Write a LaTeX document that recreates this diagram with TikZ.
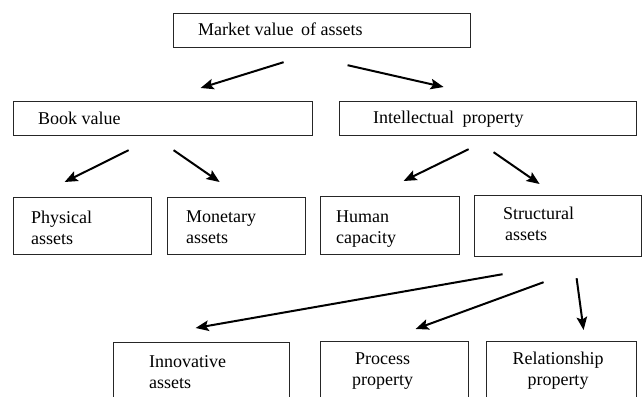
\documentclass[tikz,border=0pt]{standalone}
\usepackage{fontspec}
\setmainfont{Liberation Serif}
\usetikzlibrary{arrows.meta,calc}
\begin{document}
\begin{tikzpicture}[x=1pt,y=-1pt,
  box/.style={draw=black!85, line width=1.2pt, anchor=north west, inner sep=0pt},
  lbl/.style={anchor=base west, inner sep=0pt, font=\fontsize{18}{21}\selectfont},
  arr/.style={line width=2pt, -{Stealth[length=13pt,width=10.5pt,inset=2.5pt]}}]
\useasboundingbox (0,0) rectangle (642,396);
\clip (0,0) rectangle (642,396);
% boxes
\node[box, minimum width=297pt, minimum height=34pt] (mv) at (173,13) {};
\node[box, minimum width=299pt, minimum height=34pt] (bv) at (13,101) {};
\node[box, minimum width=297pt, minimum height=34pt] (ip) at (339,101) {};
\node[box, minimum width=138pt, minimum height=57pt] (phys) at (13,197) {};
\node[box, minimum width=138pt, minimum height=57pt] (mon) at (167,197) {};
\node[box, minimum width=139pt, minimum height=58pt] (hum) at (320,196) {};
\node[box, minimum width=167pt, minimum height=61pt] (str) at (474,195) {};
\node[box, minimum width=176pt, minimum height=80pt] (inn) at (113,342) {};
\node[box, minimum width=148pt, minimum height=80pt] (proc) at (320,341) {};
\node[box, minimum width=150pt, minimum height=80pt] (rel) at (486,341) {};
% texts (base anchor = baseline of the last line)
\node[lbl] (mvT) at (198,36) {Market value\hspace{3pt} of assets};
\node[lbl] (bvT) at (38,124) {Book value};
\node[lbl] (ipT) at (373,123) {Intellectual\hspace{4pt} property};
\node[lbl, align=left] (physT) at (31,244) {Physical\\assets};
\node[lbl, align=left] (monT) at (186,243) {Monetary\\assets};
\node[lbl, align=left] (humT) at (336,243) {Human\\capacity};
\node[lbl, align=left] (strT) at (503,240) {Structural\\\hspace{2pt}assets};
\node[lbl, align=left] (innT) at (149,388) {Innovative\\assets};
\node[lbl, align=left] (procT) at (352,385) {\hspace{3pt}Process\\property};
\node[lbl, align=center, anchor=base] (relT) at (558,385) {Relationship\\property};
% arrows
\draw[arr] ($(mv.south)+(-38.5,14)$) -- ($(bv.north)+(37.5,-13)$);
\draw[arr] ($(mv.south)+(25.5,17)$) -- ($(ip.north)+(-44.5,-14)$);
\draw[arr] ($(bv.south)+(-34.5,14)$) -- ($(phys.north)+(-18,-15)$);
\draw[arr] ($(bv.south)+(10.5,14)$) -- ($(mon.north)+(-17,-15)$);
\draw[arr] ($(ip.south)+(-19.5,13)$) -- ($(hum.north)+(13.5,-15)$);
\draw[arr] ($(ip.south)+(5.5,16)$) -- ($(str.north)+(-18.5,-11)$);
\draw[arr] ($(str.south)+(-55.5,17)$) -- ($(inn.north)+(-6,-14)$);
\draw[arr] ($(str.south)+(-14.5,25)$) -- ($(proc.north)+(21,-12)$);
\draw[arr] ($(str.south)+(18.5,21)$) -- ($(rel.north)+(22,-11)$);
\end{tikzpicture}
\end{document}
